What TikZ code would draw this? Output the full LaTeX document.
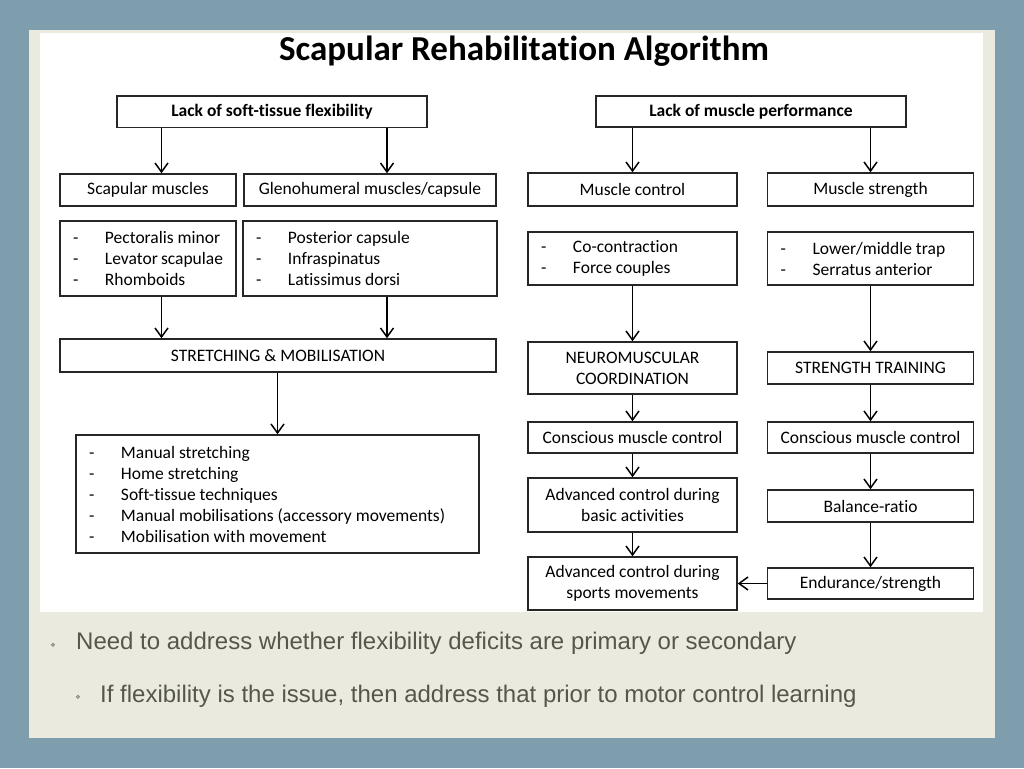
\documentclass[tikz,border=0pt]{standalone}
\usepackage{fontspec}
\setmainfont{Carlito}[Ligatures=NoCommon]
\newfontfamily\slidefont{Liberation Sans}
\newfontfamily\symfont{DejaVu Sans}
\usepackage{tikz}
\usetikzlibrary{arrows.meta,positioning,calc}
\definecolor{slideblue}{HTML}{7F9EAD}
\definecolor{slidecream}{HTML}{EBEADF}
\definecolor{slidetext}{HTML}{55574A}
\newcommand{\itm}[1]{\makebox[32pt][l]{-}{\spaceskip=0pt\xspaceskip=0pt #1}}
\tikzset{
    box/.style={
        rectangle, draw=black!85, line width=1.5pt, inner sep=2pt,
        align=center, font=\fontsize{17.5}{21}\selectfont
    },
    headbox/.style={box, font=\fontsize{17.5}{21}\selectfont\bfseries},
    listbox/.style={box, align=left, inner xsep=13pt, font=\fontsize{17.5}{21}\selectfont},
    arrow/.style={-{Straight Barb[length=9pt,width=13pt]}, line width=1.5pt},
    note/.style={font=\slidefont\fontsize{24}{27}\selectfont, text=slidetext, anchor=base west, inner sep=0pt},
    bullet/.style={font=\symfont\fontsize{6}{6}\selectfont, text=slidetext!80, inner sep=0pt}
}

\begin{document}
\begin{tikzpicture}[x=1pt,y=-1pt]

% ---- Slide background ----
\fill[slideblue] (0,0) rectangle (1024,768);
\fill[slidecream] (29,30) rectangle (995,738);
\fill[white] (40,33) rectangle (983,612);
\useasboundingbox (0,0) rectangle (1024,768);

% ---- Title ----
\node[font=\fontsize{35}{40}\selectfont\bfseries] (title) at (524,51) {Scapular Rehabilitation Algorithm};

% ---- Left branch: flexibility ----
\node[headbox, minimum width=310, minimum height=31.5] (lackflex) at (272,111.75) {Lack of soft-tissue flexibility};
\node[box, minimum width=176, minimum height=32] (scapmus) at (148,190) {Scapular muscles};
\node[box, minimum width=252, minimum height=32] (glenomus) at (370,190) {Glenohumeral muscles/capsule};
\node[listbox, minimum width=176, minimum height=75, text width=150] (scaplist) at (148,258.5)
    {\itm{Pectoralis minor}\\\itm{Levator scapulae}\\\itm{Rhomboids}};
\node[listbox, minimum width=254, minimum height=75, text width=228] (glenolist) at (370,258.5)
    {\itm{Posterior capsule}\\\itm{Infraspinatus}\\\itm{Latissimus dorsi}};
\node[box, minimum width=436, minimum height=33] (stretch) at (278,355.5) {STRETCHING \& MOBILISATION};
\node[listbox, minimum width=403, minimum height=118, text width=377] (stretchlist) at (277.5,494)
    {\itm{Manual stretching}\\\itm{Home stretching}\\\itm{Soft-tissue techniques}\\
     \itm{Manual mobilisations (accessory movements)}\\\itm{Mobilisation with movement}};

% ---- Right branch: muscle performance ----
\node[headbox, minimum width=310, minimum height=31] (lackperf) at (751,111.5) {Lack of muscle performance};
\node[box, minimum width=209, minimum height=33] (musctrl) at (632.5,189.5) {Muscle control};
\node[box, minimum width=206, minimum height=33] (muscstr) at (870.5,189.5) {Muscle strength};
\node[listbox, minimum width=209, minimum height=53, text width=183] (coconlist) at (632.5,258.5)
    {\itm{Co-contraction}\\\itm{Force couples}};
\node[listbox, minimum width=206, minimum height=53, text width=180] (traplist) at (870.5,258.5)
    {\itm{Lower/middle trap}\\\itm{Serratus anterior}};

% control column
\node[box, minimum width=209, minimum height=52] (neuro) at (632.5,368) {NEUROMUSCULAR\\COORDINATION};
\node[box, minimum width=209, minimum height=31] (conscL) at (632.5,437.5) {Conscious muscle control};
\node[box, minimum width=209, minimum height=54] (advbasic) at (632.5,505) {Advanced control during\\basic activities};
\node[box, minimum width=209, minimum height=53] (advsport) at (632.5,583.5) {Advanced control during\\sports movements};

% strength column
\node[box, minimum width=206, minimum height=32] (strtrain) at (870.5,368) {STRENGTH TRAINING};
\node[box, minimum width=206, minimum height=31] (conscR) at (870.5,437.5) {Conscious muscle control};
\node[box, minimum width=206, minimum height=32] (balance) at (870.5,506) {Balance-ratio};
\node[box, minimum width=206, minimum height=31] (endur) at (870.5,583.5) {Endurance/strength};

% ---- Connectors ----
\coordinate (colA) at (161.5,0);
\coordinate (colB) at (387,0);
\draw[arrow] (lackflex.south -| colA) -- (scapmus.north -| colA);
\draw[arrow] (lackflex.south -| colB) -- (glenomus.north -| colB);
\draw[arrow] (scaplist.south -| colA) -- (stretch.north -| colA);
\draw[arrow] (glenolist.south -| colB) -- (stretch.north -| colB);
\draw[arrow] (stretch.south -| stretchlist.north) -- (stretchlist.north);

\draw[arrow] (lackperf.south -| musctrl.north) -- (musctrl.north);
\draw[arrow] (lackperf.south -| muscstr.north) -- (muscstr.north);
\draw[arrow] (coconlist) -- (neuro);
\draw[arrow] (neuro) -- (conscL);
\draw[arrow] (conscL) -- (advbasic);
\draw[arrow] (advbasic) -- (advsport);
\draw[arrow] (traplist) -- (strtrain);
\draw[arrow] (strtrain) -- (conscR);
\draw[arrow] (conscR) -- (balance);
\draw[arrow] (balance) -- (endur);
\draw[arrow] (endur) -- (advsport);

% ---- Notes ----
\node[bullet] (b1) at (53,645) {❖};
\node[note] (n1) at (76,649) {Need to address whether flexibility deficits are primary or secondary};
\node[bullet] (b2) at (78,697) {❖};
\node[note] (n2) at (100,702) {If flexibility is the issue, then address that prior to motor control learning};

\end{tikzpicture}
\end{document}
